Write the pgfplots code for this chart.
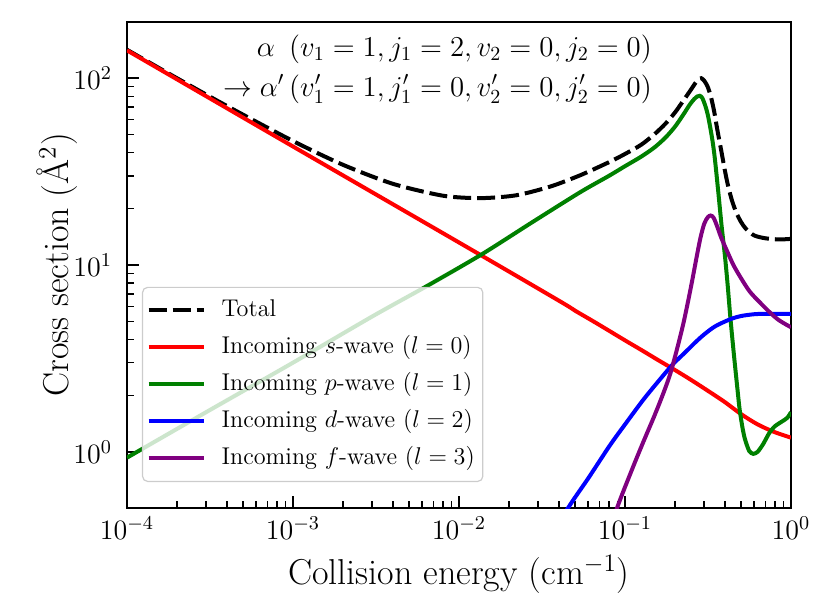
\RequirePackage{fix-cm}
\documentclass[border=0pt]{standalone}
\usepackage{pgfplots}
\pgfplotsset{compat=1.18}
\definecolor{mgreen}{rgb}{0,0.5,0}
\definecolor{mpurple}{rgb}{0.5,0,0.5}
\definecolor{legedge}{rgb}{0.8,0.8,0.8}
\begin{document}
\begin{tikzpicture}
\begin{axis}[
  at={(0,0)}, anchor=south west,
  scale only axis, width=332pt, height=243pt,
  xmode=log, ymode=log,
  xmin=1e-4, xmax=1, ymin=0.5, ymax=200,
  axis line style={line width=0.7pt},
  tick align=inside, tick pos=left,
  major tick length=6pt, minor tick length=3.5pt,
  major tick style={line width=1.2pt, black},
  minor tick style={line width=0.7pt, black},
  xtick={1e-4,1e-3,1e-2,1e-1,1},
  ytick={1,10,100},
  tick label style={font=\fontsize{14}{17}\selectfont},
  yticklabel shift=4pt, xticklabel shift=1pt,
  label style={font=\fontsize{18}{21}\selectfont},
  xlabel style={yshift=-1pt},
  ylabel style={yshift=-9pt},
  xlabel={Collision energy (cm$^{-1}$)},
  ylabel={Cross section (\AA$^{2}$)},
  legend cell align=left,
  legend image code/.code={\draw[#1] (0pt,0pt) -- (27.5pt,0pt); \path (33.5pt,0pt);},
  legend style={at={(0.0226,0.0535)}, anchor=south west,
    draw=legedge, line width=0.6pt, fill=white, fill opacity=0.8, text opacity=1,
    rounded corners=2.5pt, font=\fontsize{12.1}{14.5}\selectfont,
    nodes={text height=9pt, text depth=3pt, inner sep=2pt},
    inner xsep=2pt, inner ysep=3.5pt, row sep=2.5pt},
  every axis plot/.append style={line width=2pt},
]
\addplot[black, dash pattern=on 9pt off 3pt, smooth, tension=0.45] coordinates {
(1e-4,142) (2e-4,100) (4e-4,71) (1e-3,46.1) (2e-3,34.4) (4e-3,27.2)
(8e-3,23.5) (0.0134,22.8) (0.022,23.6) (0.0355,26.3) (0.0536,30.2) (0.08,35.5)
(0.1,39.3) (0.125,44) (0.15,50) (0.175,57) (0.2,65.5) (0.225,76) (0.25,87)
(0.265,94) (0.277,98.5) (0.288,100) (0.3,97) (0.315,90) (0.33,79) (0.345,66)
(0.36,53) (0.382,40) (0.4,32) (0.416,27) (0.44,22.3) (0.468,19.1) (0.5,17)
(0.536,15.6) (0.6,14.4) (0.7,13.9) (0.85,13.7) (1,13.8)
};
\addlegendentry{Total}
\addplot[red, smooth, tension=0.5] coordinates {
(1e-4,141) (1e-3,43.1) (1e-2,13.2) (0.04,6.44) (0.0501,5.69) (0.0631,5.05)
(0.0794,4.47) (0.1,3.95) (0.126,3.5) (0.158,3.1) (0.2,2.74) (0.251,2.42)
(0.316,2.12) (0.398,1.85) (0.501,1.59) (0.631,1.4) (0.794,1.276) (1,1.19)
};
\addlegendentry{Incoming $s$-wave ($l=0$)}
\addplot[mgreen, smooth, tension=0.45] coordinates {
(1e-4,0.93) (3e-4,1.63) (1e-3,3.0) (3e-3,5.3) (6.38e-3,7.7) (0.0137,11.4)
(0.0275,16.9) (0.0536,24.5) (0.08,30) (0.1,33.8) (0.125,38) (0.15,42.5)
(0.175,48) (0.2,55) (0.225,64) (0.245,72) (0.26,77) (0.272,79.8) (0.282,80.5)
(0.292,78.5) (0.305,71) (0.315,64) (0.325,55.6) (0.337,46) (0.348,37)
(0.365,24.5) (0.382,16.2) (0.4,11.2) (0.415,7.9) (0.43,5.4) (0.445,3.9)
(0.46,2.9) (0.475,2.2) (0.49,1.7) (0.51,1.35) (0.528,1.17) (0.56,1.01)
(0.593,0.975) (0.63,1.0) (0.68,1.1) (0.74,1.26) (0.8,1.37) (0.88,1.45)
(0.95,1.52) (1,1.63)
};
\addlegendentry{Incoming $p$-wave ($l=1$)}
\addplot[blue, smooth, tension=0.5] coordinates {
(0.03,0.28) (0.0467,0.52) (0.06,0.72) (0.081,1.08) (0.1,1.4) (0.129,1.9)
(0.163,2.45) (0.195,2.95) (0.23,3.4) (0.265,3.85) (0.3,4.25) (0.35,4.7)
(0.43,5.12) (0.5,5.33) (0.6,5.45) (0.7,5.48) (0.85,5.48) (1,5.47)
};
\addlegendentry{Incoming $d$-wave ($l=2$)}
\addplot[mpurple, smooth, tension=0.5] coordinates {
(0.07,0.27) (0.091,0.52) (0.11,0.8) (0.129,1.13) (0.15,1.55) (0.17,2.05)
(0.187,2.6) (0.205,3.5) (0.224,4.8) (0.24,6.4) (0.255,8.4) (0.27,11.0)
(0.285,14.0) (0.3,16.6) (0.315,18.0) (0.328,18.4) (0.342,17.9) (0.36,16.0)
(0.38,14.0) (0.41,12.0) (0.45,10.0) (0.5,8.5) (0.565,7.2) (0.65,6.3)
(0.75,5.55) (0.85,5.05) (1,4.64)
};
\addlegendentry{Incoming $f$-wave ($l=3$)}
\node[anchor=north east, align=right, font=\fontsize{14.4}{20}\selectfont, inner sep=0pt]
  at (rel axis cs:0.791,0.975)
  {$\alpha\ \,(v_1=1, j_1=2, v_2=0, j_2=0)$\\
   $\rightarrow\alpha'\,(v_1'=1, j_1'=0, v_2'=0, j_2'=0)$};
\end{axis}
\pgfresetboundingbox
\path (-63.5pt,-53.5pt) rectangle (351.5pt,254pt);
\end{tikzpicture}
\end{document}
